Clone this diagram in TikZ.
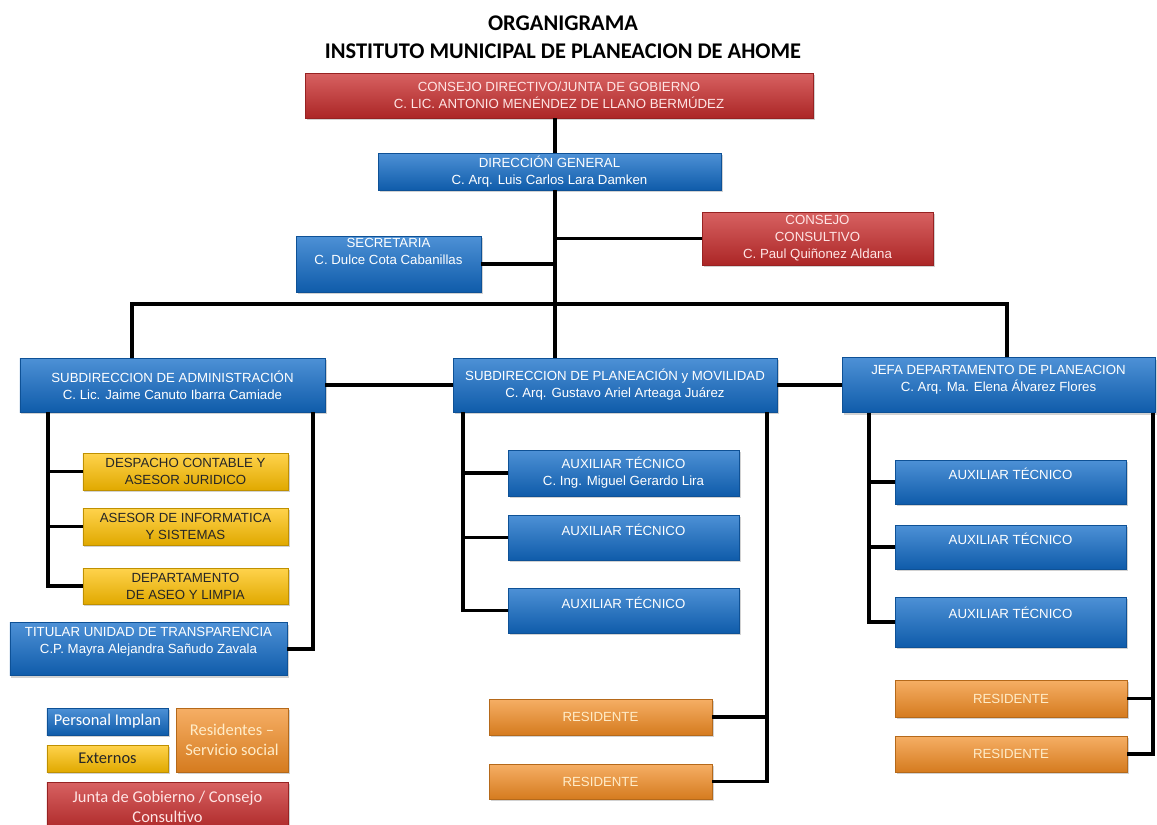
\documentclass[tikz,border=0pt]{standalone}
\usepackage{fontspec}
\setmainfont{Liberation Sans}
\newfontfamily\calfont{Carlito}
\usetikzlibrary{shadows}
\begin{document}
\begin{tikzpicture}[x=1bp, y=-1bp,
        unit/.style={shape=rectangle, inner sep=1bp, align=center, font=\fontsize{13.3}{17}\selectfont, drop shadow={opacity=0.35, shadow xshift=1.5bp, shadow yshift=-2bp}},
        bluebox/.style={unit, top color=Pcolor!75!white, middle color=Pcolor, bottom color=Pcolor!85!black, draw=Pcolor!75!black, text=white},
        redbox/.style={unit, top color=Jcolor!75!white, middle color=Jcolor, bottom color=Jcolor!85!black, draw=Jcolor!75!black, text=white!90!red},
        yellowbox/.style={unit, top color=Ecolor!70!white, middle color=Ecolor, bottom color=Ecolor!88!black, draw=Ecolor!75!black, text=black!85},
        orangebox/.style={unit, top color=Rcolor!70!white, middle color=Rcolor, bottom color=Rcolor!88!black, draw=Rcolor!75!black, text=Rtext},
        legend/.style={font=\calfont\fontsize{16.5}{20}\selectfont},
        lift/.style={text depth=#1},
        heading/.style={font=\calfont\bfseries\fontsize{22.5}{25}\selectfont},
        link/.style={draw=black, line width=3.2bp}]
    \definecolor{Pcolor}{RGB}{18, 108, 200}
    \definecolor{Jcolor}{RGB}{202, 45, 45}
    \definecolor{Ecolor}{RGB}{255, 192, 0}
    \definecolor{Rcolor}{RGB}{242, 140, 35}
    \definecolor{Rtext}{RGB}{255, 236, 200}
    \def\auxwidth{231bp}
    \def\extwidth{205bp}
    \useasboundingbox (0, 0) rectangle (1157, 825);
    \clip (0, 0) rectangle (1157, 825);
    \fill[white] (0, 0) rectangle (1157, 825);
    \node[heading] (title1) at (563, 23) {ORGANIGRAMA};
    \node[heading] (title2) at (563, 51) {INSTITUTO MUNICIPAL DE PLANEACION DE AHOME};
    \node[redbox, minimum width=508bp, minimum height=45bp] (junta) at (559, 95.5) {CONSEJO DIRECTIVO/JUNTA DE GOBIERNO\\C. LIC. ANTONIO MENÉNDEZ DE LLANO BERMÚDEZ};
    \node[bluebox, minimum width=343bp, minimum height=37bp] (dg) at (549.5, 171.5) {DIRECCIÓN GENERAL\\C. Arq. Luis Carlos Lara Damken};
    \node[bluebox, lift=25bp, minimum width=185bp, minimum height=56bp] (secre) at (388.5, 264) {SECRETARIA\\C. Dulce Cota Cabanillas};
    \node[redbox, minimum width=231bp, minimum height=53bp] (cons) at (817.5, 238.5) {CONSEJO\\CONSULTIVO\\C. Paul Quiñonez Aldana};
    \node[bluebox, minimum width=305bp, minimum height=54bp] (adm) at (172.5, 385) {SUBDIRECCION DE ADMINISTRACIÓN\\C. Lic. Jaime Canuto Ibarra Camiade};
    \node[bluebox, minimum width=324bp, minimum height=54bp] (plan) at (615, 385) {SUBDIRECCION DE PLANEACIÓN y MOVILIDAD\\C. Arq. Gustavo Ariel Arteaga Juárez};
    \node[bluebox, lift=13bp, minimum width=313bp, minimum height=55bp] (jefa) at (998.5, 385) {JEFA DEPARTAMENTO DE PLANEACION\\C. Arq. Ma. Elena Álvarez Flores};
    \node[yellowbox, minimum width=\extwidth, minimum height=37bp] (ext1) at (185.5, 471.5) {DESPACHO CONTABLE Y\\ASESOR JURIDICO};
    \node[yellowbox, minimum width=\extwidth, minimum height=37bp] (ext2) at (185.5, 526.5) {ASESOR DE INFORMATICA\\Y SISTEMAS};
    \node[yellowbox, minimum width=\extwidth, minimum height=36bp] (ext3) at (185.5, 586) {DEPARTAMENTO\\DE ASEO Y LIMPIA};
    \node[bluebox, lift=17bp, minimum width=277bp, minimum height=53bp] (titular) at (148.5, 649) {TITULAR UNIDAD DE TRANSPARENCIA\\C.P. Mayra Alejandra Sañudo Zavala};
    \node[bluebox, minimum width=\auxwidth, minimum height=46bp] (auxM1) at (623.5, 473) {AUXILIAR TÉCNICO\\C. Ing. Miguel Gerardo Lira};
    \node[bluebox, lift=15bp, minimum width=\auxwidth, minimum height=45bp] (auxM2) at (623.5, 537.5) {AUXILIAR TÉCNICO};
    \node[bluebox, lift=15bp, minimum width=\auxwidth, minimum height=45bp] (auxM3) at (623.5, 610.5) {AUXILIAR TÉCNICO};
    \node[bluebox, lift=16bp, minimum width=\auxwidth, minimum height=44bp] (auxR1) at (1010.5, 482) {AUXILIAR TÉCNICO};
    \node[bluebox, lift=16bp, minimum width=\auxwidth, minimum height=44bp] (auxR2) at (1010.5, 547) {AUXILIAR TÉCNICO};
    \node[bluebox, lift=18bp, minimum width=\auxwidth, minimum height=50bp] (auxR3) at (1010.5, 622) {AUXILIAR TÉCNICO};
    \node[orangebox, minimum width=223bp, minimum height=36bp] (resM1) at (600.5, 717) {RESIDENTE};
    \node[orangebox, minimum width=223bp, minimum height=35bp] (resM2) at (600.5, 781.5) {RESIDENTE};
    \node[orangebox, minimum width=232bp, minimum height=37bp] (resR1) at (1011, 698.5) {RESIDENTE};
    \node[orangebox, minimum width=232bp, minimum height=36bp] (resR2) at (1011, 754) {RESIDENTE};
    \node[bluebox, legend, minimum width=121bp, minimum height=27bp] (keyP) at (107.5, 721.5) {Personal Implan};
    \node[yellowbox, legend, minimum width=121bp, minimum height=27bp] (keyE) at (107.5, 758.5) {Externos};
    \node[orangebox, legend, minimum width=112bp, minimum height=64bp] (keyR) at (232, 740) {Residentes –\\Servicio social};
    \node[redbox, legend, minimum width=241bp, minimum height=50bp] (keyJ) at (167.5, 807) {Junta de Gobierno / Consejo\\Consultivo};
    \coordinate (spine) at (555, 0);
    \coordinate (barL) at (132, 304);
    \coordinate (barR) at (1007, 304);
    \coordinate (admL) at (48, 0);
    \coordinate (admR) at (313, 0);
    \coordinate (planL) at (463, 0);
    \coordinate (planR) at (767, 0);
    \coordinate (jefaL) at (869, 0);
    \coordinate (jefaR) at (1153, 0);
    \draw[link] (junta.south -| spine) -- (dg.north -| spine);
    \draw[link] (dg.south -| spine) -- (plan.north -| spine);
    \draw[link] (secre.east) -- (secre.east -| spine);
    \draw[link] (cons.west) -- (cons.west -| spine);
    \draw[link] (adm.north -| barL) -- (barL) -- (barR) -- (jefa.north -| barR);
    \draw[link] (adm.east) -- (plan.west);
    \draw[link] (plan.east) -- (jefa.west);
    \draw[link] (adm.south -| admL) |- (ext3.west);
    \draw[link] (ext1.west -| admL) -- (ext1.west);
    \draw[link] (ext2.west -| admL) -- (ext2.west);
    \draw[link] (adm.south -| admR) |- (titular.east);
    \draw[link] (plan.south -| planL) |- (auxM3.west);
    \draw[link] (auxM1.west -| planL) -- (auxM1.west);
    \draw[link] (auxM2.west -| planL) -- (auxM2.west);
    \draw[link] (plan.south -| planR) |- (resM2.east);
    \draw[link] (resM1.east -| planR) -- (resM1.east);
    \draw[link] (jefa.south -| jefaL) |- (auxR3.west);
    \draw[link] (auxR1.west -| jefaL) -- (auxR1.west);
    \draw[link] (auxR2.west -| jefaL) -- (auxR2.west);
    \draw[link] (jefa.south -| jefaR) |- (resR2.east);
    \draw[link] (resR1.east -| jefaR) -- (resR1.east);
\end{tikzpicture}
\end{document}
